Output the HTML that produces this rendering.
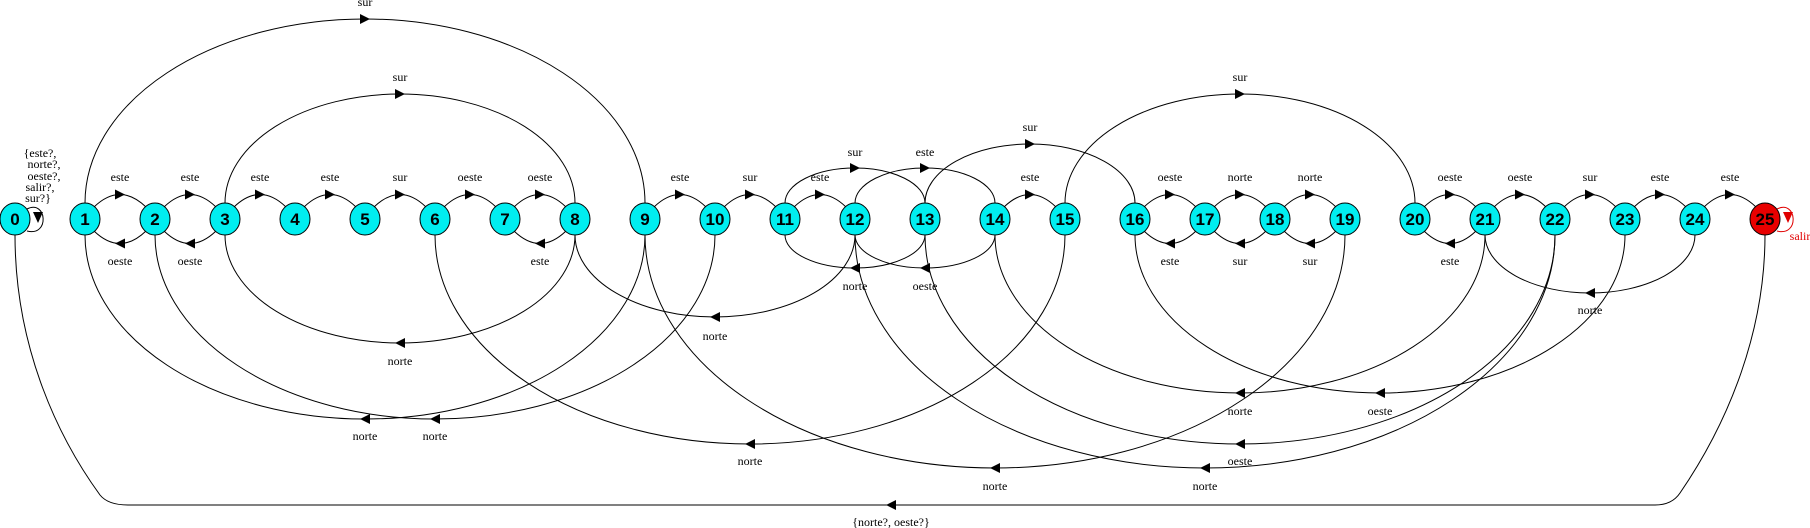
<!DOCTYPE html>
<html><head><meta charset="utf-8"><style>
html,body{margin:0;padding:0;background:#fff;}
svg{display:block;}
.l{font-family:"Liberation Serif",serif;font-size:12px;text-anchor:middle;fill:#000;}
.n{font-family:"Liberation Sans",sans-serif;font-size:17px;font-weight:bold;text-anchor:middle;fill:#000;}
path{fill:none;stroke:#000;stroke-width:1;}
</style></head><body>
<svg width="1810" height="528" viewBox="0 0 1810 528" xmlns="http://www.w3.org/2000/svg">
<g>
<!-- small top arcs -->
<path d="M94 207 Q120 182 146 207"/><path d="M164 207 Q190 182 216 207"/><path d="M234 207 Q260 182 286 207"/><path d="M304 207 Q330 182 356 207"/><path d="M374 207 Q400 182 426 207"/><path d="M444 207 Q470 182 496 207"/><path d="M514 207 Q540 182 566 207"/>
<path d="M654 207 Q680 182 706 207"/><path d="M724 207 Q750 182 776 207"/><path d="M794 207 Q820 182 846 207"/><path d="M1004 207 Q1030 182 1056 207"/>
<path d="M1144 207 Q1170 182 1196 207"/><path d="M1214 207 Q1240 182 1266 207"/><path d="M1284 207 Q1310 182 1336 207"/>
<path d="M1424 207 Q1450 182 1476 207"/><path d="M1494 207 Q1520 182 1546 207"/><path d="M1564 207 Q1590 182 1616 207"/><path d="M1634 207 Q1660 182 1686 207"/><path d="M1704 207 Q1730 182 1756 207"/>
<!-- small bottom arcs -->
<path d="M94 231 Q120 256 146 231"/><path d="M164 231 Q190 256 216 231"/><path d="M514 231 Q540 256 566 231"/><path d="M1144 231 Q1170 256 1196 231"/><path d="M1214 231 Q1240 256 1266 231"/><path d="M1284 231 Q1310 256 1336 231"/><path d="M1424 231 Q1450 256 1476 231"/>
<!-- big top arcs -->
<path d="M85 203 A280 184 0 0 1 645 203"/>
<path d="M225 203 A175 109 0 0 1 575 203"/>
<path d="M785 203 A70 35 0 0 1 925 203"/>
<path d="M855 203 A70 35 0 0 1 995 203"/>
<path d="M925 203 A105 59 0 0 1 1135 203"/>
<path d="M1065 203 A175 109 0 0 1 1415 203"/>
<!-- big bottom arcs -->
<path d="M575 235 A175 108 0 0 1 225 235"/>
<path d="M645 235 A280 184 0 0 1 85 235"/>
<path d="M715 235 A280 184 0 0 1 155 235"/>
<path d="M855 235 A140 82 0 0 1 575 235"/>
<path d="M1065 235 A315 209 0 0 1 435 235"/>
<path d="M1345 235 A350 233 0 0 1 645 235"/>
<path d="M925 235 A70 33 0 0 1 785 235"/>
<path d="M995 235 A70 33 0 0 1 855 235"/>
<path d="M1485 235 A245 158 0 0 1 995 235"/>
<path d="M1625 235 A245 158 0 0 1 1135 235"/>
<path d="M1555 235 A315 209 0 0 1 925 235"/>
<path d="M1555 235 A350 233 0 0 1 855 235"/>
<path d="M1695 235 A105 58 0 0 1 1485 235"/>
<!-- 25 -> 0 -->
<path d="M15 235 C15 350 60 440 100 495 Q108 505 128 505 L1655 505 Q1672 505 1680 493 C1730 420 1765 330 1765 235"/>
<!-- self loops -->
<path d="M27 209 C47 199 50 237 27 231"/>
<path d="M1777 209 C1797 199 1800 237 1777 231" style="stroke:#e00000"/>
</g>
<g fill="#000">
<!-- right arrows top small -->
<polygon points="125,194.5 115,189.5 115,199.5"/><polygon points="195,194.5 185,189.5 185,199.5"/><polygon points="265,194.5 255,189.5 255,199.5"/><polygon points="335,194.5 325,189.5 325,199.5"/><polygon points="405,194.5 395,189.5 395,199.5"/><polygon points="475,194.5 465,189.5 465,199.5"/><polygon points="545,194.5 535,189.5 535,199.5"/>
<polygon points="685,194.5 675,189.5 675,199.5"/><polygon points="755,194.5 745,189.5 745,199.5"/><polygon points="825,194.5 815,189.5 815,199.5"/><polygon points="1035,194.5 1025,189.5 1025,199.5"/>
<polygon points="1175,194.5 1165,189.5 1165,199.5"/><polygon points="1245,194.5 1235,189.5 1235,199.5"/><polygon points="1315,194.5 1305,189.5 1305,199.5"/>
<polygon points="1455,194.5 1445,189.5 1445,199.5"/><polygon points="1525,194.5 1515,189.5 1515,199.5"/><polygon points="1595,194.5 1585,189.5 1585,199.5"/><polygon points="1665,194.5 1655,189.5 1655,199.5"/><polygon points="1735,194.5 1725,189.5 1725,199.5"/>
<!-- left arrows bottom small -->
<polygon points="115,243.5 125,238.5 125,248.5"/><polygon points="185,243.5 195,238.5 195,248.5"/><polygon points="535,243.5 545,238.5 545,248.5"/><polygon points="1165,243.5 1175,238.5 1175,248.5"/><polygon points="1235,243.5 1245,238.5 1245,248.5"/><polygon points="1305,243.5 1315,238.5 1315,248.5"/><polygon points="1445,243.5 1455,238.5 1455,248.5"/>
<!-- big top arrows (right) -->
<polygon points="370,19 360,14 360,24"/><polygon points="405,94 395,89 395,99"/><polygon points="860,168 850,163 850,173"/><polygon points="930,168 920,163 920,173"/><polygon points="1035,144 1025,139 1025,149"/><polygon points="1245,94 1235,89 1235,99"/>
<!-- big bottom arrows (left) -->
<polygon points="395,343 405,338 405,348"/><polygon points="360,419 370,414 370,424"/><polygon points="430,419 440,414 440,424"/><polygon points="710,317 720,312 720,322"/><polygon points="745,444 755,439 755,449"/><polygon points="990,468 1000,463 1000,473"/><polygon points="850,268 860,263 860,273"/><polygon points="920,268 930,263 930,273"/><polygon points="1235,393 1245,388 1245,398"/><polygon points="1375,393 1385,388 1385,398"/><polygon points="1235,444 1245,439 1245,449"/><polygon points="1200,468 1210,463 1210,473"/><polygon points="1585,293 1595,288 1595,298"/>
<polygon points="886,505 896,500 896,510"/>
<polygon points="38,223 33,212 43,212"/>
<polygon points="1788,223 1783,212 1793,212" fill="#e00000"/>
</g>
<!-- nodes -->
<g stroke="#000" stroke-width="1" fill="#00eef0">
<ellipse cx="15" cy="219" rx="15" ry="16"/><ellipse cx="85" cy="219" rx="15" ry="16"/><ellipse cx="155" cy="219" rx="15" ry="16"/><ellipse cx="225" cy="219" rx="15" ry="16"/><ellipse cx="295" cy="219" rx="15" ry="16"/><ellipse cx="365" cy="219" rx="15" ry="16"/><ellipse cx="435" cy="219" rx="15" ry="16"/><ellipse cx="505" cy="219" rx="15" ry="16"/><ellipse cx="575" cy="219" rx="15" ry="16"/><ellipse cx="645" cy="219" rx="15" ry="16"/><ellipse cx="715" cy="219" rx="15" ry="16"/><ellipse cx="785" cy="219" rx="15" ry="16"/><ellipse cx="855" cy="219" rx="15" ry="16"/><ellipse cx="925" cy="219" rx="15" ry="16"/><ellipse cx="995" cy="219" rx="15" ry="16"/><ellipse cx="1065" cy="219" rx="15" ry="16"/><ellipse cx="1135" cy="219" rx="15" ry="16"/><ellipse cx="1205" cy="219" rx="15" ry="16"/><ellipse cx="1275" cy="219" rx="15" ry="16"/><ellipse cx="1345" cy="219" rx="15" ry="16"/><ellipse cx="1415" cy="219" rx="15" ry="16"/><ellipse cx="1485" cy="219" rx="15" ry="16"/><ellipse cx="1555" cy="219" rx="15" ry="16"/><ellipse cx="1625" cy="219" rx="15" ry="16"/><ellipse cx="1695" cy="219" rx="15" ry="16"/>
<ellipse cx="1765" cy="219" rx="15" ry="16" fill="#e80000"/>
</g>
<g class="n">
<text x="15" y="225" class="n">0</text><text x="85" y="225" class="n">1</text><text x="155" y="225" class="n">2</text><text x="225" y="225" class="n">3</text><text x="295" y="225" class="n">4</text><text x="365" y="225" class="n">5</text><text x="435" y="225" class="n">6</text><text x="505" y="225" class="n">7</text><text x="575" y="225" class="n">8</text><text x="645" y="225" class="n">9</text><text x="715" y="225" class="n">10</text><text x="785" y="225" class="n">11</text><text x="855" y="225" class="n">12</text><text x="925" y="225" class="n">13</text><text x="995" y="225" class="n">14</text><text x="1065" y="225" class="n">15</text><text x="1135" y="225" class="n">16</text><text x="1205" y="225" class="n">17</text><text x="1275" y="225" class="n">18</text><text x="1345" y="225" class="n">19</text><text x="1415" y="225" class="n">20</text><text x="1485" y="225" class="n">21</text><text x="1555" y="225" class="n">22</text><text x="1625" y="225" class="n">23</text><text x="1695" y="225" class="n">24</text><text x="1765" y="225" class="n">25</text>
</g>
<g>
<text class="l" x="120" y="181">este</text><text class="l" x="190" y="181">este</text><text class="l" x="260" y="181">este</text><text class="l" x="330" y="181">este</text><text class="l" x="400" y="181">sur</text><text class="l" x="470" y="181">oeste</text><text class="l" x="540" y="181">oeste</text>
<text class="l" x="680" y="181">este</text><text class="l" x="750" y="181">sur</text><text class="l" x="820" y="181">este</text><text class="l" x="1030" y="181">este</text>
<text class="l" x="1170" y="181">oeste</text><text class="l" x="1240" y="181">norte</text><text class="l" x="1310" y="181">norte</text>
<text class="l" x="1450" y="181">oeste</text><text class="l" x="1520" y="181">oeste</text><text class="l" x="1590" y="181">sur</text><text class="l" x="1660" y="181">este</text><text class="l" x="1730" y="181">este</text>
<text class="l" x="120" y="265">oeste</text><text class="l" x="190" y="265">oeste</text><text class="l" x="540" y="265">este</text><text class="l" x="1170" y="265">este</text><text class="l" x="1240" y="265">sur</text><text class="l" x="1310" y="265">sur</text><text class="l" x="1450" y="265">este</text>
<text class="l" x="365" y="6">sur</text><text class="l" x="400" y="81">sur</text><text class="l" x="855" y="156">sur</text><text class="l" x="925" y="156">este</text><text class="l" x="1030" y="131">sur</text><text class="l" x="1240" y="81">sur</text>
<text class="l" x="400" y="365">norte</text><text class="l" x="365" y="440">norte</text><text class="l" x="435" y="440">norte</text><text class="l" x="715" y="340">norte</text><text class="l" x="750" y="465">norte</text><text class="l" x="995" y="490">norte</text><text class="l" x="855" y="290">norte</text><text class="l" x="925" y="290">oeste</text><text class="l" x="1240" y="415">norte</text><text class="l" x="1380" y="415">oeste</text><text class="l" x="1240" y="465">oeste</text><text class="l" x="1205" y="490">norte</text><text class="l" x="1590" y="314">norte</text>
<text class="l" x="891" y="526">{norte?, oeste?}</text>
<text class="l" x="1800" y="240" style="fill:#e00000">salir</text>
<text class="l" x="40" y="157">{este?,</text><text class="l" x="44" y="168">norte?,</text><text class="l" x="44" y="180">oeste?,</text><text class="l" x="40" y="191">salir?,</text><text class="l" x="38" y="202">sur?}</text>
</g>
</svg>
</body></html>
